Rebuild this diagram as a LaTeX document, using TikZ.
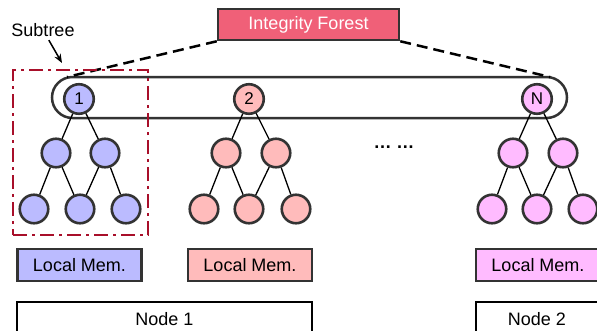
\documentclass[tikz,border=0pt]{standalone}
\usepackage{fontspec}
\setmainfont{Liberation Sans}
\usepackage{xcolor}
\usepackage{tikz}
\usetikzlibrary{arrows.meta}

\definecolor{treeblue}{HTML}{BBBBFF}
\definecolor{treepink}{HTML}{FFBBBB}
\definecolor{treeviolet}{HTML}{FFBBFF}
\definecolor{forestred}{HTML}{F06078}
\definecolor{subred}{HTML}{A80F2A}
\definecolor{darkline}{HTML}{333333}

\begin{document}
\begin{tikzpicture}
    [x=1pt,y=-1pt,
    font=\fontsize{18}{20}\selectfont,
    tnode/.style={shape=circle,draw=darkline,line width=2.6pt,minimum size=28.5pt,inner sep=0pt},
    troot/.style={tnode,minimum size=29.5pt,font=\fontsize{17}{18}\selectfont},
    capsule/.style={shape=rectangle,draw=darkline,line width=2.5pt,rounded corners=20.5pt,minimum width=515pt,minimum height=41pt},
    membox/.style={shape=rectangle,draw=darkline,line width=2.5pt,minimum width=124pt,minimum height=32pt,inner sep=0pt},
    hostbox/.style={shape=rectangle,draw=black,line width=1.5pt,minimum height=34pt,inner sep=0pt},
    forestbox/.style={shape=rectangle,draw=darkline,line width=2.5pt,fill=forestred,text=white,minimum width=181pt,minimum height=31pt,inner sep=0pt},
    subbox/.style={shape=rectangle,draw=subred,line width=2.5pt,dash pattern=on 14pt off 5pt on 3pt off 5pt,minimum width=135pt,minimum height=165pt},
    arc/.style={-{Stealth[length=9pt,width=7pt]},line width=1.5pt},
    edge/.style={line width=1.3pt},
    dashline/.style={line width=2.5pt,dash pattern=on 11pt off 6pt}]

    \path [use as bounding box,clip] (0,0) rectangle (597,330);

    % forest of roots
    \node (forest) [capsule] at (309.5,97.5) {};
    \node (integrity) [forestbox] at (308.5,24.5) {Integrity Forest};
    \coordinate (fl) at (67,77);
    \coordinate (fr) at (550,77);
    \draw [dashline] (integrity.south west) to (fl);
    \draw [dashline] (integrity.south east) to (fr);

    % tree 1
    \node (1) [troot,fill=treeblue] at (79,99) {1};
    \node (1a) [tnode,fill=treeblue] at (56,153) {};
    \node (1b) [tnode,fill=treeblue] at (105,153) {};
    \node (1c) [tnode,fill=treeblue] at (34,209) {};
    \node (1d) [tnode,fill=treeblue] at (80,209) {};
    \node (1e) [tnode,fill=treeblue] at (126,209) {};

    % tree 2
    \node (2) [troot,fill=treepink] at (249,99) {2};
    \node (2a) [tnode,fill=treepink] at (226,153) {};
    \node (2b) [tnode,fill=treepink] at (276,153) {};
    \node (2c) [tnode,fill=treepink] at (204,209) {};
    \node (2d) [tnode,fill=treepink] at (249,209) {};
    \node (2e) [tnode,fill=treepink] at (296,209) {};

    % tree N
    \node (N) [troot,fill=treeviolet] at (537,99) {N};
    \node (Na) [tnode,fill=treeviolet] at (513,153) {};
    \node (Nb) [tnode,fill=treeviolet] at (563,153) {};
    \node (Nc) [tnode,fill=treeviolet] at (492,209) {};
    \node (Nd) [tnode,fill=treeviolet] at (537,209) {};
    \node (Ne) [tnode,fill=treeviolet] at (583,209) {};

    \draw [edge] (1) to (1a);
    \draw [edge] (1) to (1b);
    \draw [edge] (1a) to (1c);
    \draw [edge] (1a) to (1d);
    \draw [edge] (1b) to (1d);
    \draw [edge] (1b) to (1e);
    \draw [edge] (2) to (2a);
    \draw [edge] (2) to (2b);
    \draw [edge] (2a) to (2c);
    \draw [edge] (2a) to (2d);
    \draw [edge] (2b) to (2d);
    \draw [edge] (2b) to (2e);
    \draw [edge] (N) to (Na);
    \draw [edge] (N) to (Nb);
    \draw [edge] (Na) to (Nc);
    \draw [edge] (Na) to (Nd);
    \draw [edge] (Nb) to (Nd);
    \draw [edge] (Nb) to (Ne);

    \node (dots) [anchor=base] at (394,148) {\bfseries … …};

    % memories and hosts
    \node (mem1) [membox,fill=treeblue] at (79.5,265) {Local Mem.};
    \node (mem2) [membox,fill=treepink] at (250,265) {Local Mem.};
    \node (memN) [membox,fill=treeviolet] at (538,265) {Local Mem.};
    \node (host1) [hostbox,minimum width=295pt] at (164.5,319) {Node 1};
    \node (host2) [hostbox,minimum width=122pt] at (537,319) {Node 2};

    % subtree marker
    \node (subtree) [subbox] at (80.5,152.5) {};
    \node (sublabel) at (43,30) {Subtree};
    \coordinate (subtip) at (62,63);
    \draw [arc] (sublabel) to (subtip);

  \end{tikzpicture}
\end{document}
